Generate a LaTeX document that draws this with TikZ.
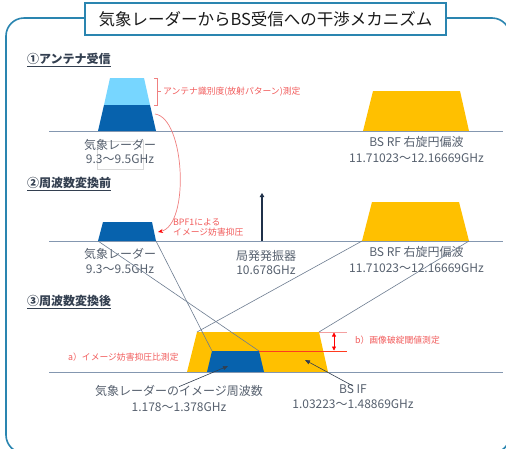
\documentclass[tikz,border=0pt]{standalone}
\usepackage{fontspec}
\setmainfont{Noto Sans CJK JP}
\usetikzlibrary{arrows.meta}
\definecolor{framec}{HTML}{2A85B0}
\definecolor{titlec}{HTML}{1A1A1A}
\definecolor{headc}{HTML}{333F50}
\definecolor{labelc}{HTML}{56606E}
\definecolor{basec}{HTML}{8497B0}
\definecolor{crossc}{HTML}{6E7D91}
\definecolor{yel}{HTML}{FFC000}
\definecolor{dblue}{HTML}{0762AD}
\definecolor{lblue}{HTML}{77D6FF}
\definecolor{redtext}{HTML}{F25C5C}
\definecolor{redcurve}{HTML}{F08080}
\definecolor{pinkline}{HTML}{F4A0A0}
\definecolor{redline}{HTML}{FF3B1F}
\definecolor{loc}{HTML}{1F3049}
\definecolor{ptrc}{HTML}{333F50}
\begin{document}
\begin{tikzpicture}[x=1pt,y=-1pt,
  lbl/.style={text=labelc,font=\fontsize{12}{14}\selectfont,align=center,inner sep=0pt},
  redlbl/.style={text=redtext,font=\fontsize{8.8}{10.5}\selectfont,align=left,inner sep=0pt,anchor=west},
  headtxt/.style={text=headc,font=\bfseries\fontsize{12}{14}\selectfont,anchor=west,inner sep=0pt},
  baseln/.style={draw=basec,line width=1pt},
  crossln/.style={draw=crossc,line width=0.6pt},
  ptr/.style={draw=ptrc,line width=0.6pt,-{Triangle[length=5pt,width=4pt]}},
]
\useasboundingbox (0,0) rectangle (506,448);
\fill[white] (0,0) rectangle (506,448);
% frame
\begin{scope}
\clip (0,0) rectangle (506,448);
\draw[framec,line width=1.6pt,rounded corners=18pt] (6,18) rectangle (510,453);
\end{scope}
\node[draw=framec,line width=1.2pt,fill=white,minimum width=361pt,minimum height=32pt,inner sep=0pt] (title) at (265.5,19) {};
\node[text=titlec,font=\fontsize{16.5}{18}\selectfont,inner sep=0pt] (titletxt) at (265.5,19) {気象レーダーからBS受信への干渉メカニズム};

% headings
\node[headtxt] (h1) at (27,60) {\underline{①アンテナ受信}};
\node[headtxt] (h2) at (27,184) {\underline{②周波数変換前}};
\node[headtxt] (h3) at (27,302) {\underline{③周波数変換後}};

% ---------- section 1
\coordinate (r1bl) at (98,131); \coordinate (r1br) at (156,131);
\coordinate (r1ml) at (104,105); \coordinate (r1mr) at (150,105);
\coordinate (r1tl) at (110,78); \coordinate (r1tr) at (144,78);
\fill[lblue] (r1ml) -- (r1tl) -- (r1tr) -- (r1mr) -- cycle;
\fill[dblue] (r1bl) -- (r1ml) -- (r1mr) -- (r1br) -- cycle;
\coordinate (s1bl) at (363,131); \coordinate (s1br) at (469,131);
\coordinate (s1tr) at (460,91); \coordinate (s1tl) at (373,91);
\fill[yel] (s1bl) -- (s1tl) -- (s1tr) -- (s1br) -- cycle;
\coordinate (b1l) at (49,131); \coordinate (b1r) at (503,131);
\draw[baseln] (b1l) -- (b1r);
% bracket
\coordinate (k1) at (154,78); \coordinate (k2) at (157,78);
\coordinate (k3) at (157,105); \coordinate (k4) at (154,105);
\coordinate (km) at (157,91.5); \coordinate (kt) at (161,91.5);
\draw[redcurve,line width=0.6pt] (k1) -- (k2) -- (k3) -- (k4) (km) -- (kt);
\node[redlbl] (antlbl) at (163,91.5) {アンテナ識別度(放射パターン)測定};
\draw[black!15,line width=0.4pt] (97,141) rectangle (143,169);
\node[lbl,font=\fontsize{12}{14}\selectfont] (r1lbl) at (120,151) {気象レーダー\\9.3〜9.5GHz};
\node[lbl,font=\fontsize{12}{16}\selectfont] (s1lbl) at (416.5,150) {BS RF 右旋円偏波\\11.71023〜12.16669GHz};

% ---------- section 2
\coordinate (r2bl) at (98,241); \coordinate (r2br) at (156,241);
\coordinate (r2tr) at (152,222); \coordinate (r2tl) at (103,222);
\fill[dblue] (r2bl) -- (r2tl) -- (r2tr) -- (r2br) -- cycle;
\coordinate (s2bl) at (362,241); \coordinate (s2br) at (469,241);
\coordinate (s2tr) at (459,202); \coordinate (s2tl) at (372,202);
\fill[yel] (s2bl) -- (s2tl) -- (s2tr) -- (s2br) -- cycle;
\coordinate (b2l) at (49,241); \coordinate (b2r) at (503,241);
\draw[baseln] (b2l) -- (b2r);
\coordinate (lo0) at (262,241); \coordinate (lo1) at (262,193);
\draw[loc,line width=2pt,-{Triangle[length=4pt,width=4.5pt]}] (lo0) -- (lo1);
\node[redlbl] (bpflbl) at (173,227.5) {BPF1による\\イメージ妨害抑圧};
\node[lbl,font=\fontsize{12}{15}\selectfont] (r2lbl) at (120,260.5) {気象レーダー\\9.3〜9.5GHz};
\node[lbl,font=\fontsize{12}{14}\selectfont] (lolbl) at (266,263) {局発発振器\\10.678GHz};
\node[lbl,font=\fontsize{12}{16}\selectfont] (s2lbl) at (416.5,260) {BS RF 右旋円偏波\\11.71023〜12.16669GHz};
% red curved arrow
\coordinate (c0) at (155,114); \coordinate (c1) at (158,232);
\draw[redcurve,line width=0.7pt,-{Stealth[length=5pt,width=4pt,color=red]}] (c0) .. controls (185,118) and (190,225) .. (c1);

% ---------- section 3
\coordinate (y3bl) at (187,372); \coordinate (y3br) at (328,372);
\coordinate (y3tr) at (319,332); \coordinate (y3tl) at (197,332);
\fill[yel] (y3bl) -- (y3tl) -- (y3tr) -- (y3br) -- cycle;
\coordinate (i3bl) at (207,372); \coordinate (i3br) at (264,372);
\coordinate (i3tr) at (259,351); \coordinate (i3tl) at (212,351);
\fill[dblue] (i3bl) -- (i3tl) -- (i3tr) -- (i3br) -- cycle;
\coordinate (b3l) at (49,372); \coordinate (b3r) at (503,372);
\draw[baseln] (b3l) -- (b3r);
\coordinate (y3e) at (347,332); \coordinate (i3e) at (347,351);
\draw[pinkline,line width=0.6pt] (y3tr) -- (y3e);
\draw[redline,line width=0.8pt] (i3tr) -- (i3e);
\coordinate (da1) at (334,332.5); \coordinate (da2) at (334,350.5);
\draw[red,line width=0.6pt,{Triangle[length=4pt,width=4pt]}-{Triangle[length=4pt,width=4pt]}] (da1) -- (da2);
\node[redlbl] (blbl) at (355,340) {b）画像破綻閾値測定};
\node[redlbl] (albl) at (68,357) {a）イメージ妨害抑圧比測定};
\node[lbl,font=\fontsize{12}{16}\selectfont] (imlbl) at (179,398) {気象レーダーのイメージ周波数\\1.178〜1.378GHz};
\node[lbl,font=\fontsize{12}{15.5}\selectfont] (iflbl) at (353,396.5) {BS IF\\1.03223〜1.48869GHz};
\coordinate (p1e) at (228,366); \coordinate (p2e) at (305,360);
\draw[ptr] ([yshift=-2pt]imlbl.north) -- (p1e);
\draw[ptr] ([yshift=-2pt]iflbl.north) -- (p2e);

% crossing conversion lines
\draw[crossln] (r2bl) -- (i3tr);
\draw[crossln] (r2br) -- (i3tl);
\draw[crossln] (s2bl) -- (y3tl);
\draw[crossln] (s2br) -- (y3tr);
\end{tikzpicture}
\end{document}
